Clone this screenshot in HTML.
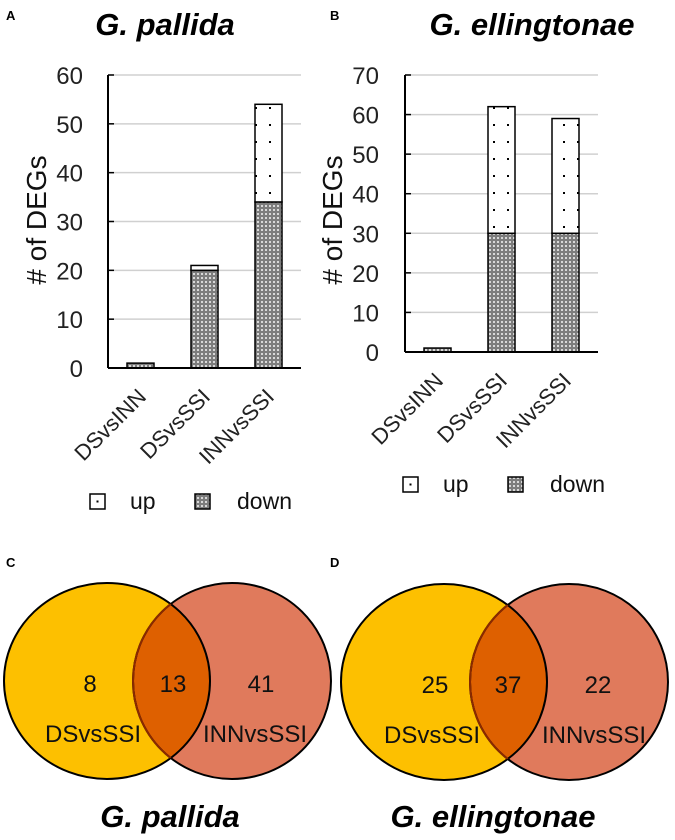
<!DOCTYPE html>
<html><head><meta charset="utf-8"><style>
html,body{margin:0;padding:0;background:#fff;}
svg{display:block;font-family:"Liberation Sans",sans-serif;}
</style></head><body>
<svg id="root" width="675" height="840" viewBox="0 0 675 840" xmlns="http://www.w3.org/2000/svg">
<defs>
<pattern id="pDown" width="4" height="4" patternUnits="userSpaceOnUse"><rect width="4" height="4" fill="#7d7d7d"/><rect x="1" y="1" width="2" height="2" fill="#d8d8d8"/></pattern>
<pattern id="pUp" width="14" height="17" patternUnits="userSpaceOnUse"><rect width="14" height="17" fill="#fff"/><rect x="3" y="5" width="2" height="2" fill="#000"/></pattern>
<clipPath id="clipCL"><ellipse cx="107" cy="681" rx="103" ry="98"/></clipPath>
<clipPath id="clipDL"><ellipse cx="444" cy="682" rx="103" ry="98"/></clipPath>
</defs>
<g font-weight="bold" font-size="13" fill="#000">
<text x="6" y="20">A</text>
<text x="330" y="20">B</text>
<text x="6" y="567">C</text>
<text x="330" y="567">D</text>
</g>
<text x="165" y="35" text-anchor="middle" font-size="31" font-weight="bold" font-style="italic">G. pallida</text>
<text x="532" y="35" text-anchor="middle" font-size="31" font-weight="bold" font-style="italic">G. ellingtonae</text>
<g id="chartA"></g>
<g id="chartB"></g>

<!-- Venn C -->
<g>
<ellipse cx="107" cy="681" rx="103" ry="98" fill="#fdc000"/>
<ellipse cx="232" cy="681" rx="99" ry="98" fill="#e07a5c"/>
<ellipse cx="232" cy="681" rx="99" ry="98" fill="#de6000" clip-path="url(#clipCL)"/>
<ellipse cx="107" cy="681" rx="103" ry="98" fill="none" stroke="#000" stroke-width="2"/>
<ellipse cx="232" cy="681" rx="99" ry="98" fill="none" stroke="#000" stroke-width="2"/>
<ellipse cx="232" cy="681" rx="99" ry="98" fill="none" stroke="#8a2a00" stroke-width="2" clip-path="url(#clipCL)"/>
<g font-size="24" text-anchor="middle" fill="#111">
<text x="90" y="692">8</text>
<text x="173" y="692">13</text>
<text x="261" y="692">41</text>
<text x="93" y="742">DSvsSSI</text>
<text x="255" y="742">INNvsSSI</text>
</g>
<text x="170" y="827" text-anchor="middle" font-size="31" font-weight="bold" font-style="italic">G. pallida</text>
</g>
<!-- Venn D -->
<g>
<ellipse cx="444" cy="682" rx="103" ry="98" fill="#fdc000"/>
<ellipse cx="569" cy="682" rx="99" ry="98" fill="#e07a5c"/>
<ellipse cx="569" cy="682" rx="99" ry="98" fill="#de6000" clip-path="url(#clipDL)"/>
<ellipse cx="444" cy="682" rx="103" ry="98" fill="none" stroke="#000" stroke-width="2"/>
<ellipse cx="569" cy="682" rx="99" ry="98" fill="none" stroke="#000" stroke-width="2"/>
<ellipse cx="569" cy="682" rx="99" ry="98" fill="none" stroke="#8a2a00" stroke-width="2" clip-path="url(#clipDL)"/>
<g font-size="24" text-anchor="middle" fill="#111">
<text x="435" y="693">25</text>
<text x="508" y="693">37</text>
<text x="598" y="693">22</text>
<text x="432" y="743">DSvsSSI</text>
<text x="594" y="743">INNvsSSI</text>
</g>
<text x="493" y="827" text-anchor="middle" font-size="31" font-weight="bold" font-style="italic">G. ellingtonae</text>
</g>
</svg>
<script>
const categories = ["DSvsINN", "DSvsSSI", "INNvsSSI"];
const downA = [1, 20, 34];
const upA = [0, 1, 20];
const ticksA = [0, 10, 20, 30, 40, 50, 60];
const downB = [1, 30, 30];
const upB = [0, 32, 29];
const ticksB = [0, 10, 20, 30, 40, 50, 60, 70];
const NS = "http://www.w3.org/2000/svg";
function mk(parent, tag, attrs, txt) {
  const e = document.createElementNS(NS, tag);
  for (const k in attrs) e.setAttribute(k, attrs[k]);
  if (txt !== undefined) e.textContent = txt;
  parent.appendChild(e);
  return e;
}
function drawChart(g, cfg, down, up, ticks) {
  const maxV = ticks[ticks.length - 1];
  const y = v => cfg.y0 - (v / maxV) * (cfg.y0 - cfg.yTop);
  const x = i => cfg.bx0 + i * cfg.step;
  ticks.forEach(t => {
    if (t > 0) {
      const gl = mk(g, "line", {x1: cfg.ax, x2: cfg.right, y1: y(t), y2: y(t), stroke: "#d0d0d0", "stroke-width": 1.5});
      
      
    }
    const tk = mk(g, "line", {x1: cfg.ax, x2: cfg.ax + 6, y1: y(t), y2: y(t), stroke: "#000", "stroke-width": 1.5});
    
    
    const tl = mk(g, "text", {x: cfg.tickX, y: y(t) + 9, "text-anchor": "end", "font-size": 24, fill: "#222"}, String(t));
    
    
  });
  categories.forEach((c, i) => {
    const bx = x(i);
    const d = mk(g, "rect", {x: bx, y: y(down[i]), width: cfg.bw, height: y(0) - y(down[i]), fill: "url(#pDown)", stroke: "#000", "stroke-width": 1.5});
    
    
    if (up[i] > 0) {
      const u = mk(g, "rect", {x: bx, y: y(down[i] + up[i]), width: cfg.bw, height: y(down[i]) - y(down[i] + up[i]), fill: "url(#pUp)", stroke: "#000", "stroke-width": 1.5});
      
      
    }
    const cx = bx + cfg.bw / 2 + 7, cy = cfg.y0 + 30;
    const xl = mk(g, "text", {x: cx, y: cy, "text-anchor": "end", "font-size": 22, fill: "#222", transform: `rotate(-45 ${cx} ${cy})`}, c);
    
    
  });
  const ya = mk(g, "line", {x1: cfg.ax, x2: cfg.ax, y1: y(maxV), y2: cfg.y0, stroke: "#000", "stroke-width": 2});
  
  
  const xa = mk(g, "line", {x1: cfg.ax, x2: cfg.right, y1: cfg.y0, y2: cfg.y0, stroke: "#000", "stroke-width": 2});
  
  
  const yt = mk(g, "text", {x: cfg.ytX, y: cfg.ytY, "text-anchor": "middle", "font-size": 28, fill: "#111", transform: `rotate(-90 ${cfg.ytX} ${cfg.ytY})`}, "# of DEGs");
  
  
  const lg = mk(g, "g", {});
  
  
  const s1 = mk(lg, "rect", {x: cfg.lx, y: cfg.ly, width: 15, height: 15, fill: "#fff", stroke: "#000", "stroke-width": 1.5});
  
  
  mk(lg, "rect", {x: cfg.lx + 6.5, y: cfg.ly + 6.5, width: 2, height: 2, fill: "#000"});
  const t1 = mk(lg, "text", {x: cfg.lx + 40, y: cfg.ly + 15, "font-size": 23, fill: "#111"}, "up");
  
  
  const s2 = mk(lg, "rect", {x: cfg.lx + 105, y: cfg.ly, width: 15, height: 15, fill: "url(#pDown)", stroke: "#000", "stroke-width": 1.5});
  
  
  const t2 = mk(lg, "text", {x: cfg.lx + 147, y: cfg.ly + 15, "font-size": 23, fill: "#111"}, "down");
  
  
}
drawChart(document.getElementById("chartA"),
  {ax: 108, right: 301, y0: 368, yTop: 75, bx0: 127, step: 64, bw: 27, tickX: 83, ytX: 46, ytY: 220, lx: 90, ly: 494},
  downA, upA, ticksA);
drawChart(document.getElementById("chartB"),
  {ax: 405, right: 598, y0: 352, yTop: 75, bx0: 424, step: 64, bw: 27, tickX: 379, ytX: 342, ytY: 220, lx: 403, ly: 477},
  downB, upB, ticksB);
</script>
</body></html>
